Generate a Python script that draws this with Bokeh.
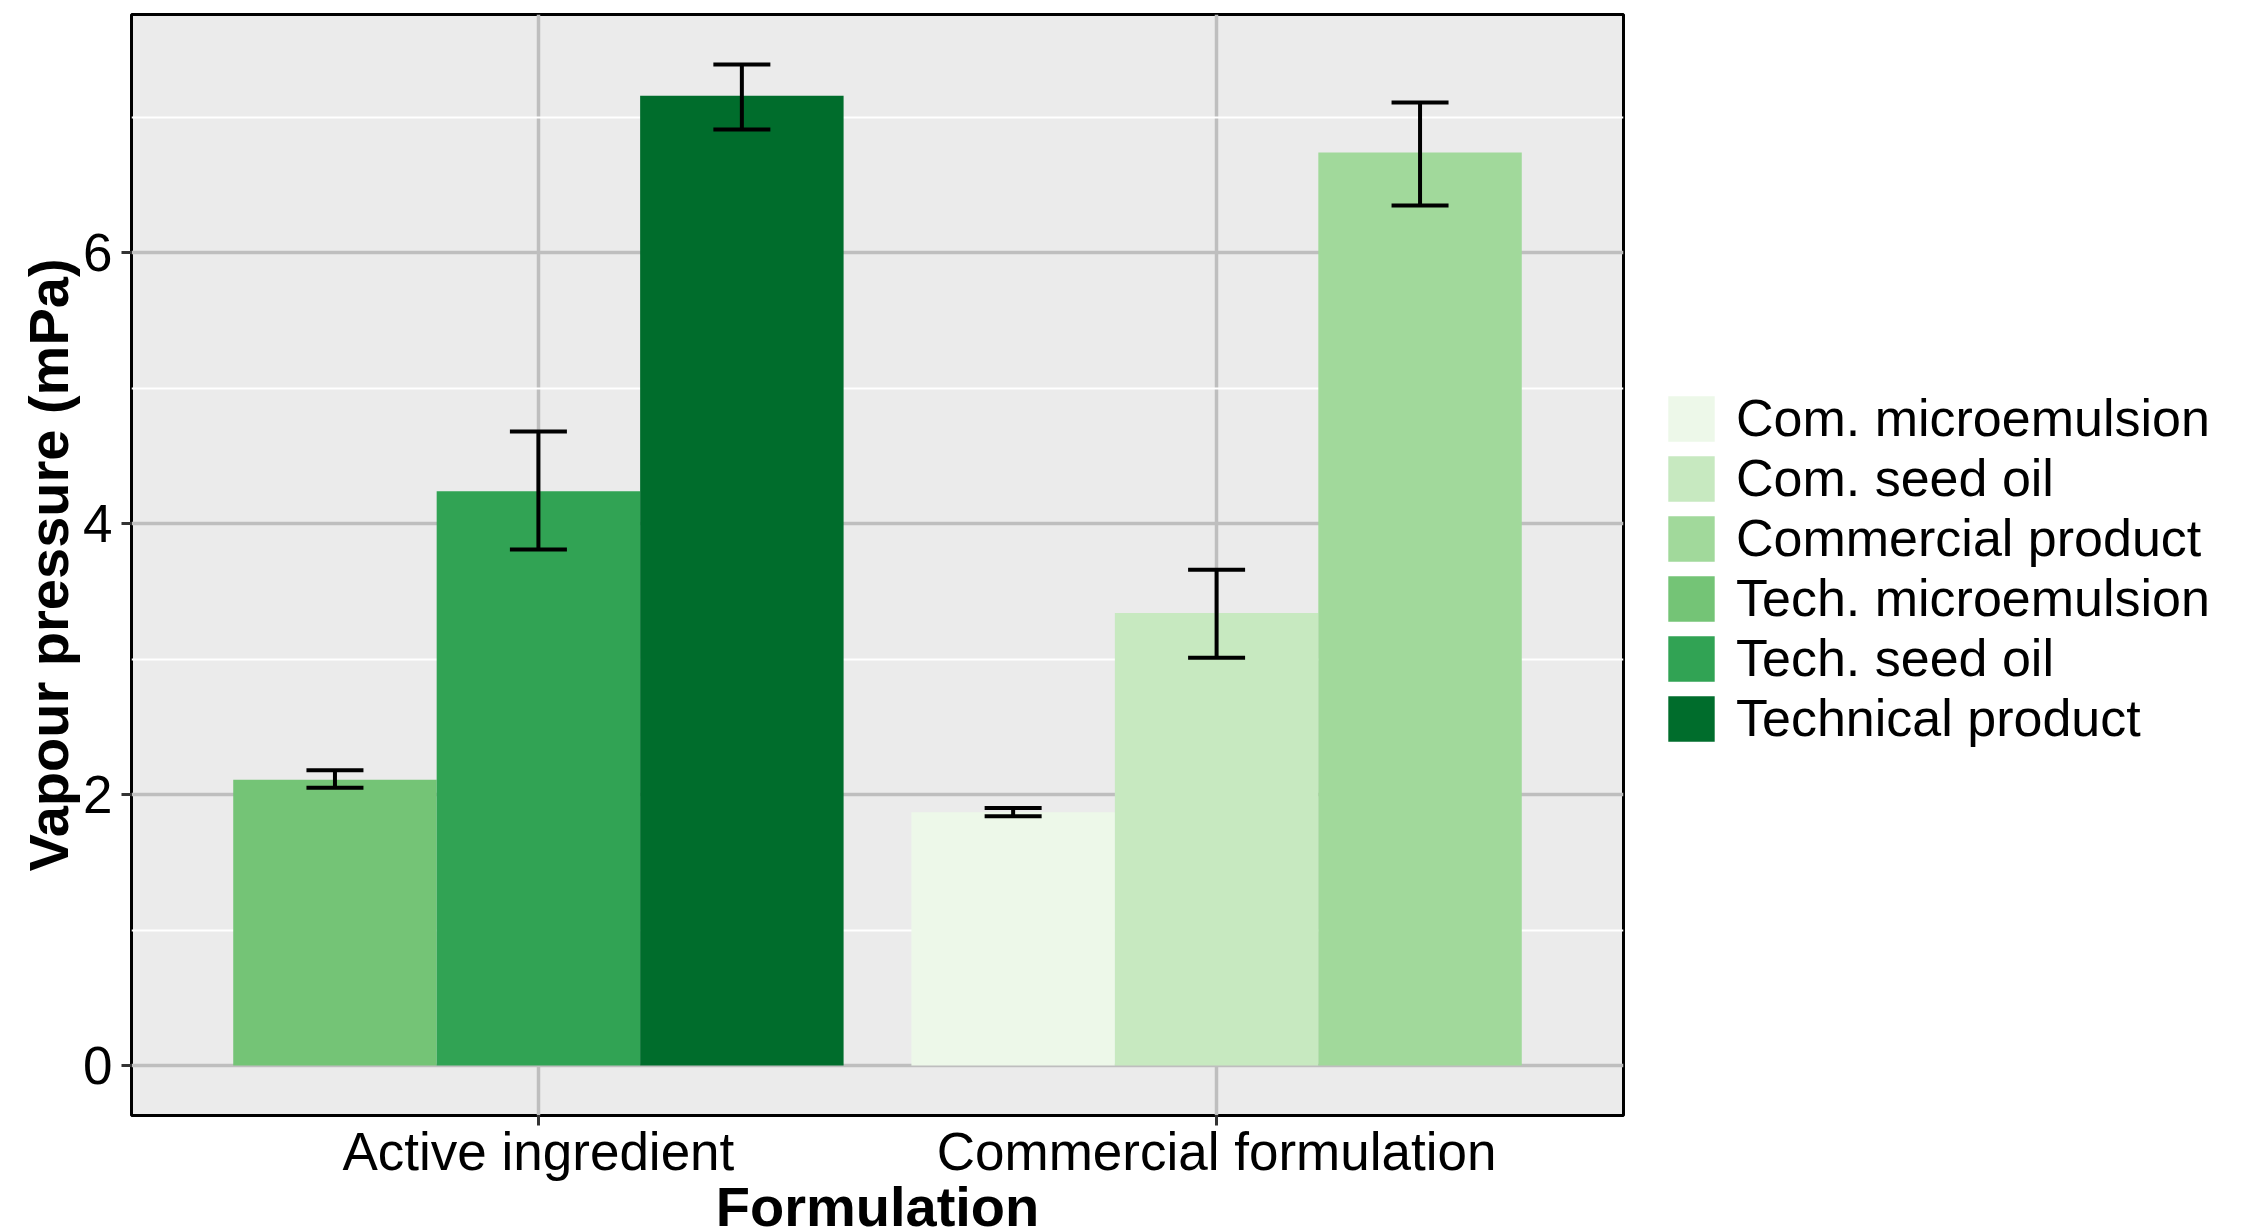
from bokeh.plotting import figure
from bokeh.layouts import row, column
from bokeh.models import (ColumnDataSource, FactorRange, Range1d, FixedTicker,
                          Whisker, TeeHead, Legend, LegendItem, Label)
from bokeh.transform import dodge
from bokeh.embed import file_html
from bokeh.resources import INLINE

# ---------------- data ----------------
categories = ["Active ingredient", "Commercial formulation"]
series = ["Com. microemulsion", "Com. seed oil", "Commercial product",
          "Tech. microemulsion", "Tech. seed oil", "Technical product"]
series_group = ["Commercial formulation", "Commercial formulation", "Commercial formulation",
                "Active ingredient", "Active ingredient", "Active ingredient"]
means = [1.87, 3.34, 6.74, 2.11, 4.24, 7.16]
err_low = [1.84, 3.01, 6.35, 2.05, 3.81, 6.91]
err_high = [1.90, 3.66, 7.11, 2.18, 4.68, 7.39]
colors = ["#edf8e9", "#c7e9c0", "#a1d99b", "#74c476", "#31a354", "#006d2c"]
y_ticks = [0, 2, 4, 6]
y_minor = [1, 3, 5, 7]
x_title = "Formulation"
y_title = "Vapour pressure (mPa)"

FONT = "Liberation Sans"
DODGE_W = 0.9
W, H = 2256, 1228
W_MAIN = 1640
H_MAIN = 1183
ML, MR, MT = 131, W_MAIN - 1623, 14
MB = H_MAIN - 1115

ymax = max(err_high)
pad = 0.05 * ymax

xr = FactorRange(factors=categories, range_padding=0.1, range_padding_units="absolute")
p = figure(width=W_MAIN, height=H_MAIN, x_range=xr,
           y_range=Range1d(-pad, ymax + pad),
           output_backend="svg", toolbar_location=None,
           min_border_left=ML, min_border_right=MR,
           min_border_top=MT, min_border_bottom=MB)

p.background_fill_color = "#EBEBEB"
p.border_fill_color = "white"
p.outline_line_color = "black"
p.outline_line_width = 3

# grids
p.yaxis.ticker = FixedTicker(ticks=y_ticks, minor_ticks=y_minor)
p.ygrid.grid_line_color = "#BEBEBE"
p.ygrid.grid_line_width = 3.5
p.ygrid.minor_grid_line_color = "white"
p.ygrid.minor_grid_line_width = 2
p.xgrid.grid_line_color = "#BEBEBE"
p.xgrid.grid_line_width = 3.5

# axes
for ax in (p.xaxis, p.yaxis):
    ax.axis_line_color = None
    ax.major_tick_line_color = "#333333"
    ax.major_tick_line_width = 3
    ax.major_tick_out = 10
    ax.major_tick_in = 0
    ax.minor_tick_line_color = None
    ax.major_label_text_font = FONT
    ax.major_label_text_font_size = "53px"
    ax.major_label_text_color = "black"
    ax.axis_label_text_font = FONT
    ax.axis_label_text_font_style = "bold"
    ax.axis_label_text_font_size = "56px"
    ax.axis_label_text_color = "black"

p.yaxis.axis_label = y_title
p.xaxis.major_label_standoff = -4
p.yaxis.major_label_standoff = 9
p.yaxis.axis_label_standoff = 0

# bars + error bars
for i, name in enumerate(series):
    grp = series_group[i]
    members = [j for j, g in enumerate(series_group) if g == grp]
    n = len(members)
    k = members.index(i)
    bw = DODGE_W / n
    off = -DODGE_W / 2 + bw * (k + 0.5)
    src = ColumnDataSource(dict(x=[grp], top=[means[i]], lo=[err_low[i]], hi=[err_high[i]]))
    p.vbar(x=dodge("x", off, range=p.x_range), top="top", bottom=0, width=bw,
           source=src, fill_color=colors[i], line_color=None)
    w = Whisker(base=dodge("x", off, range=p.x_range), lower="lo", upper="hi",
                source=src, line_color="black", line_width=4, level="overlay",
                upper_head=TeeHead(size=57, line_color="black", line_width=4),
                lower_head=TeeHead(size=57, line_color="black", line_width=4))
    p.add_layout(w)

# legend panel (separate canvas to the right of the plot)
pl = figure(width=W - W_MAIN, height=H_MAIN, x_range=FactorRange(factors=series),
            y_range=Range1d(0, 1), x_axis_type=None, y_axis_type=None,
            output_backend="svg", toolbar_location=None, min_border=0)
pl.outline_line_color = None
pl.background_fill_color = "white"
pl.border_fill_color = "white"
pl.grid.visible = False
items = []
for i, name in enumerate(series):
    r = pl.vbar(x="x", top="top", width=0.9,
                source=ColumnDataSource(dict(x=[name], top=[means[i]])),
                fill_color=colors[i], line_color=None, visible=False)
    items.append(LegendItem(label=name, renderers=[r]))

legend = Legend(items=items, location=(22, 367), orientation="vertical",
                glyph_width=58, glyph_height=57, label_height=57, spacing=0,
                label_standoff=16, padding=0, margin=0,
                label_text_font=FONT, label_text_font_size="52px",
                label_text_color="black", label_text_baseline="middle",
                border_line_color=None, background_fill_alpha=0,
                inactive_fill_alpha=0)
pl.add_layout(legend, "center")

# x-axis title strip below the plot, sharing the plot's horizontal range
H_T = H - H_MAIN
pt = figure(width=W_MAIN, height=H_T, x_range=xr, y_range=Range1d(0, H_T),
            x_axis_type=None, y_axis_type=None, output_backend="svg",
            toolbar_location=None, min_border_left=ML, min_border_right=MR,
            min_border_top=0, min_border_bottom=0)
pt.outline_line_color = None
pt.background_fill_color = "white"
pt.border_fill_color = "white"
pt.grid.visible = False
pt.add_layout(Label(x=len(categories) / 2, y=22, text=x_title, text_align="center",
                    text_baseline="alphabetic", text_font=FONT, text_font_style="bold",
                    text_font_size="56px", text_color="black"))

layout = column(row(p, pl, spacing=0), pt, spacing=0)
open("out.html", "w").write(file_html(layout, INLINE))
